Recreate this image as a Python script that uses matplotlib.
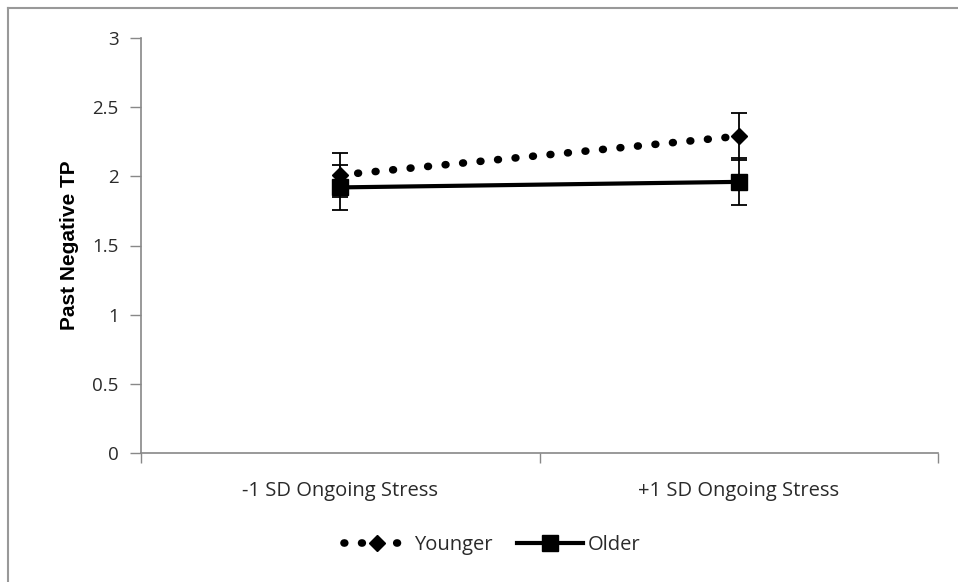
import matplotlib
matplotlib.use("Agg")
import matplotlib.pyplot as plt
from matplotlib.lines import Line2D

categories = ["-1 SD Ongoing Stress", "+1 SD Ongoing Stress"]
younger = [2.01, 2.29]
younger_err = [0.16, 0.17]
older = [1.92, 1.96]
older_err = [0.16, 0.17]
yticks = [0, 0.5, 1, 1.5, 2, 2.5, 3]
ytick_labels = ["0", "0.5", "1", "1.5", "2", "2.5", "3"]

plt.rcParams['font.family'] = ['Open Sans', 'DejaVu Sans']
fig = plt.figure(figsize=(9.58, 5.82), dpi=100)
ax = fig.add_axes([141/958, 1-453/582, (938-141)/958, (453-38)/582])

dot_style = (0, (0.1, 2.2))
x = list(range(len(categories)))
ax.errorbar(x, younger, yerr=younger_err, color='black', linestyle=dot_style,
            linewidth=5.5, dash_capstyle='round', marker='D', markersize=8,
            capsize=6, elinewidth=1.3, capthick=1.3, zorder=3)
ax.errorbar(x, older, yerr=older_err, color='black', linestyle='-', linewidth=3,
            marker='s', markersize=12, capsize=6, elinewidth=1.3, capthick=1.3,
            zorder=3)

ax.set_xlim(-0.5, 1.5)
ax.set_ylim(0, 3)
ax.set_xticks([-0.5, 0.5, 1.5])
ax.set_xticklabels([])
ax.set_xticks(x, minor=True)
ax.set_xticklabels(categories, minor=True)
ax.tick_params(axis='x', which='minor', length=0, pad=20, labelsize=14.5, labelcolor='#2a2a2a')
ax.tick_params(axis='x', which='major', length=7, width=1, color='#888888', direction='out')
ax.set_yticks(yticks)
ax.set_yticklabels(ytick_labels)
ax.tick_params(axis='y', length=8, width=1, color='#888888', direction='out', pad=8,
               labelsize=13.5, labelcolor='#2a2a2a')
for s in ['top', 'right']:
    ax.spines[s].set_visible(False)
for s in ['left', 'bottom']:
    ax.spines[s].set_color('#888888')
    ax.spines[s].set_linewidth(1.2)
ax.set_ylabel('Past Negative TP', fontsize=15, fontweight='bold', labelpad=10,
              family=['Liberation Sans', 'DejaVu Sans'])

h_young = Line2D([], [], color='black', linestyle=dot_style, linewidth=5.5,
                 dash_capstyle='round', marker='D', markersize=8)
h_old = Line2D([], [], color='black', linestyle='-', linewidth=3, marker='s', markersize=12)
leg = fig.legend(handles=[h_young, h_old], labels=['Younger', 'Older'], loc='center',
                 bbox_to_anchor=(492/958, 1-545/582), ncol=2, frameon=False, fontsize=14.5,
                 handlelength=3.3, columnspacing=1.2, handletextpad=0.2)
for t in leg.get_texts():
    t.set_color('#2a2a2a')

fig.add_artist(Line2D([8/958, 8/958], [0, 1-8/582], color='#999999', linewidth=1.5))
fig.add_artist(Line2D([8/958, 1], [1-8/582, 1-8/582], color='#999999', linewidth=1.5))

fig.savefig('out.png', dpi=100)
